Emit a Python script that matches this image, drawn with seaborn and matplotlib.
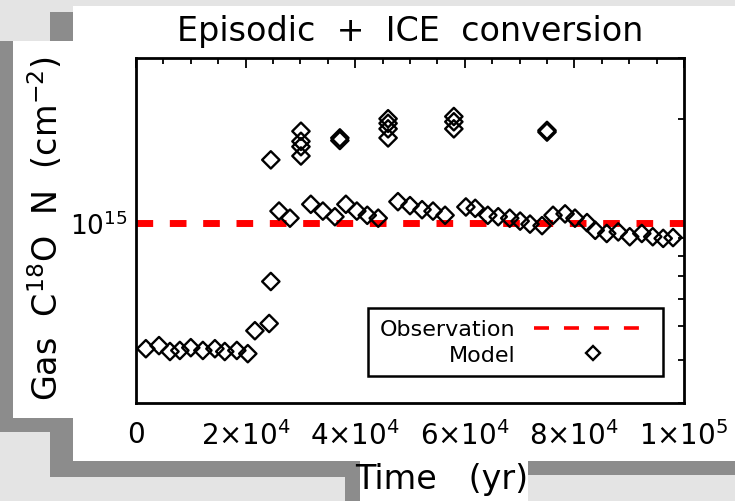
import numpy as np
import matplotlib
matplotlib.use("Agg")
import matplotlib.pyplot as plt
import seaborn as sns
from matplotlib.patches import Rectangle
from matplotlib.lines import Line2D
from matplotlib.ticker import (FixedLocator, FixedFormatter, NullFormatter,
                               MultipleLocator, LogLocator)

# ---------------- data ----------------
title = "Episodic  +  ICE  conversion"
xlabel = "Time   (yr)"
ylabel = r"Gas  C$^{18}$O  N  (cm$^{-2}$)"
x_ticks = [0, 20000, 40000, 60000, 80000, 100000]
x_tick_labels = ["0", r"$2{\times}10^{4}$", r"$4{\times}10^{4}$",
                 r"$6{\times}10^{4}$", r"$8{\times}10^{4}$", r"$1{\times}10^{5}$"]
y_ticks = [1e15]
y_tick_labels = [r"$10^{15}$"]
legend_labels = ["Observation", "Model"]
obs_n = 1e15

time_model = [1800, 4200, 6200, 8000, 10000, 12200, 14400, 16200, 18400, 20400,
              21700, 24300, 24600, 24600,
              26100, 28100,
              30100, 30100, 30100, 30100,
              31900, 34100, 36300, 38300, 40300, 42200, 44200,
              37200, 37200,
              46000, 46000, 46000, 46000,
              47800, 50000, 52200, 54200, 56400,
              58000, 58000, 58000,
              60200, 61900, 64200, 66100, 68200, 70100, 71900, 74100,
              75000, 75000,
              76100, 78300, 80100, 82300, 83800, 85900, 88000, 90100,
              92300, 94300, 96200, 98000]
n_model = [4.31e14, 4.40e14, 4.23e14, 4.26e14, 4.34e14, 4.26e14, 4.31e14, 4.23e14, 4.26e14, 4.17e14,
           4.86e14, 5.10e14, 6.75e14, 1.52e15,
           1.08e15, 1.03e15,
           1.84e15, 1.72e15, 1.66e15, 1.56e15,
           1.13e15, 1.08e15, 1.04e15, 1.13e15, 1.08e15, 1.05e15, 1.03e15,
           1.76e15, 1.73e15,
           2.00e15, 1.94e15, 1.87e15, 1.76e15,
           1.15e15, 1.12e15, 1.09e15, 1.08e15, 1.05e15,
           2.03e15, 1.96e15, 1.87e15,
           1.11e15, 1.10e15, 1.05e15, 1.04e15, 1.03e15, 1.01e15, 0.99e15, 0.98e15,
           1.85e15, 1.83e15,
           1.05e15, 1.06e15, 1.03e15, 1.00e15, 0.95e15, 0.93e15, 0.94e15, 0.91e15,
           0.93e15, 0.91e15, 0.90e15, 0.905e15]

# ---------------- style ----------------
sns.set_theme(style="white")
plt.rcParams["font.family"] = ["DejaVu Sans"]
plt.rcParams["mathtext.default"] = "regular"
for k in ["text.color", "axes.labelcolor", "xtick.color", "ytick.color"]:
    plt.rcParams[k] = "black"

W, H = 735, 502
fig = plt.figure(figsize=(7.35, 5.02), dpi=100, facecolor="#e4e4e4")


def px_rect(x0, y0, x1, y1, color):
    fig.add_artist(Rectangle((x0 / W, 1 - y1 / H), (x1 - x0) / W, (y1 - y0) / H,
                             transform=fig.transFigure, facecolor=color,
                             edgecolor="none", zorder=-10))


dark = "#8c8c8c"
px_rect(50, 13, 73, 42, dark)
px_rect(0, 42, 13, 433, dark)
px_rect(0, 419, 73, 433, dark)
px_rect(50, 419, 73, 478, dark)
px_rect(50, 462, 360, 478, dark)
px_rect(345, 462, 360, 502, dark)
px_rect(528, 462, 735, 476, dark)
px_rect(73, 7, 735, 462, "white")
px_rect(13, 42, 73, 419, "white")
px_rect(360, 462, 528, 502, "white")

ax = fig.add_axes([136 / W, 1 - 404 / H, 548 / W, 345 / H])
ax.set_facecolor("white")

ax.axhline(obs_n, color="#ff0000", lw=5, dashes=(2.4, 2.4), zorder=2)
sns.scatterplot(x=time_model, y=n_model, marker="D", s=78, facecolor="none",
                edgecolor="black", linewidth=1.7, ax=ax, zorder=3)

ax.set_yscale("log")
ax.set_xlim(0, 100000)
ax.set_ylim(3e14, 3e15)

ax.xaxis.set_major_locator(FixedLocator(x_ticks))
ax.xaxis.set_major_formatter(FixedFormatter(x_tick_labels))
ax.xaxis.set_minor_locator(MultipleLocator(5000))
ax.yaxis.set_major_locator(FixedLocator(y_ticks))
ax.yaxis.set_major_formatter(FixedFormatter(y_tick_labels))
ax.yaxis.set_minor_locator(LogLocator(base=10, subs=np.arange(2, 10)))
ax.yaxis.set_minor_formatter(NullFormatter())

ax.tick_params(which="both", direction="in", top=True, right=True,
               color="black", width=1.3)
ax.tick_params(which="major", length=7)
ax.tick_params(which="minor", length=4)
ax.tick_params(axis="x", which="major", pad=12, labelsize=20)
ax.tick_params(axis="y", which="major", pad=6, labelsize=19)

for s in ax.spines.values():
    s.set_visible(True)
    s.set_color("black")
    s.set_linewidth(2)

ax.set_title(title, fontsize=24, pad=13)
ax.set_xlabel(xlabel, fontsize=24)
ax.xaxis.set_label_coords(0.558, -0.171)
ax.set_ylabel(ylabel, fontsize=24)
ax.yaxis.set_label_coords(-0.13, 0.507)

handles = [Line2D([], [], color="#ff0000", lw=2.6, dashes=(4.15, 4.15)),
           Line2D([], [], ls="none", marker="D", markersize=7.6, mfc="none",
                  mec="black", mew=1.7)]
leg = ax.legend(handles, legend_labels, loc="lower right",
                bbox_to_anchor=(0.9617, 0.078), markerfirst=False,
                frameon=True, fancybox=False, edgecolor="black", framealpha=1,
                fontsize=16, handlelength=5.3, handletextpad=0.85,
                borderpad=0.5, labelspacing=0.25, borderaxespad=0)
leg.get_frame().set_linewidth(1.8)

fig.savefig("out.png", dpi=100, facecolor=fig.get_facecolor())
